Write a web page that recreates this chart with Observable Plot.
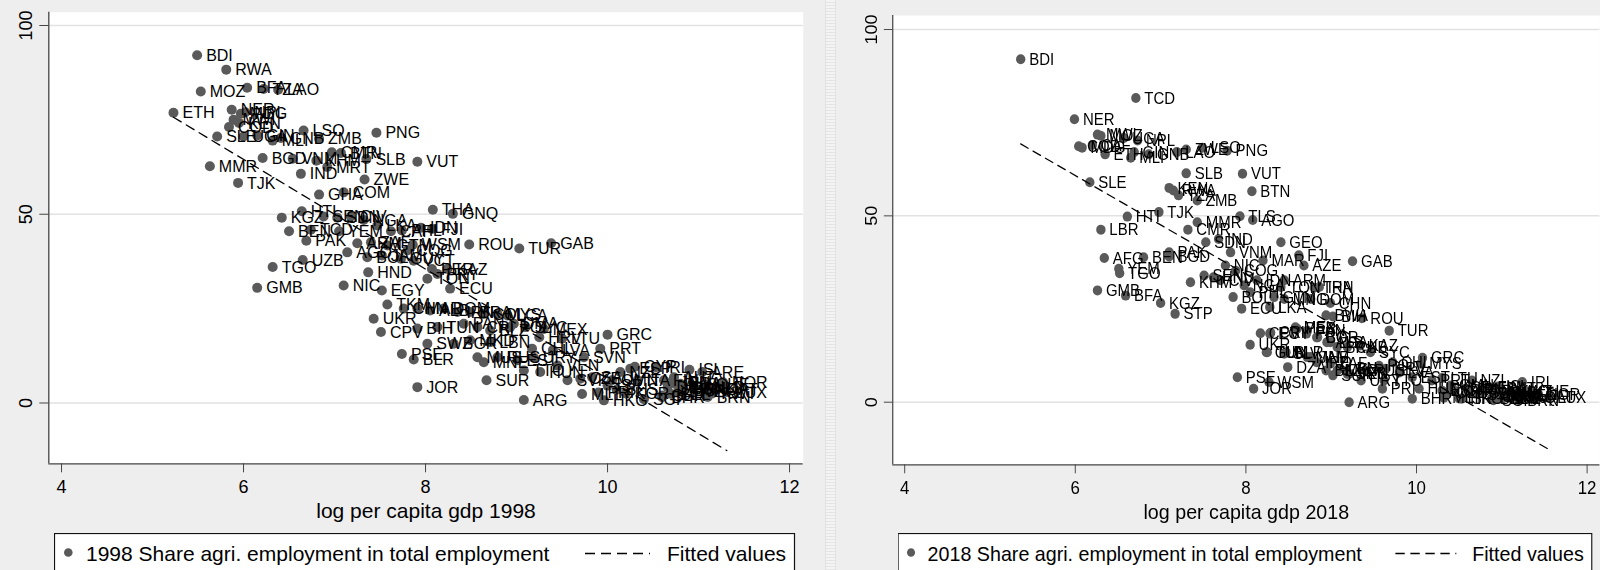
<!DOCTYPE html>
<html>
<head>
<meta charset="utf-8">
<script src="https://cdn.jsdelivr.net/npm/d3@7"></script>
<script src="https://cdn.jsdelivr.net/npm/@observablehq/plot@0.6"></script>
<style>
  html, body { margin: 0; padding: 0; background: #eeeeee; }
  #root { position: relative; width: 1600px; height: 570px; overflow: hidden; background: #eeeeee;
          font-family: "Liberation Sans", Arial, sans-serif; }
  .panel { position: absolute; top: 0; width: 810px; height: 570px; transform-origin: 0 0; }
  .panel svg { position: absolute; left: 0; top: 0; }
  .strip { position: absolute; left: 825px; top: 0; width: 11px; height: 570px;
           background: repeating-linear-gradient(180deg, #f4f4f4 0 2px, #e4e4e4 2px 3px);
           border-left: 1px solid #e2e2e2; border-right: 1px solid #e2e2e2; box-sizing: border-box; }
</style>
</head>
<body>
<div id="root">
  <div class="panel" id="p1" style="left:0px"></div>
  <div class="strip"></div>
  <div class="panel" id="p2" style="left:847px; transform: scaleX(0.9374)"></div>
</div>
<script>
// ---------- 1998 ----------
const codes98 = ["BDI","RWA","MOZ","BFA","TZA","LAO","ETH","NER","MDG","NPL","MWI","KEN","COD","SLE","UGA","GIN","MLI","GNB","LSO","ZMB",
  "PNG","BGD","VNM","KHM","CMR","BTN","MRT","SLB","VUT","MMR","TJK","IND","ZWE","GHA","COM","HTI","KGZ","SEN","SDN","CIV",
  "NGA","LKA","BEN","TCD","YEM","PAK","UZB","TGO","HND","NIC","GMB","THA","GNQ","FJI","ROU","TUR","GAB","WSM","CAF","PHL",
  "IDN","ARM","ZAF","GTM","AGO","BOL","JAM","GUY","COG","VCT","PER","KAZ","TON","PRY","ECU","EGY","TKM","CHN","MAR","ALB",
  "DOM","IRN","BRA","COL","MYS","LCA","UKR","CPV","BIH","TUN","PAN","CRI","BLZ","POL","SWZ","BGR","MKD","LBN","PSE","BLR",
  "MUS","MNE","RUS","EST","JOR","SUR","ARG","GRC","PRT","SVN","HRV","CHL","DMA","SYC","MEX","URY","VEN","TTO","HUN","SVK",
  "CZE","SAU","MLT","HKG","ISR","NZL","ESP","ITA","SGP","IRL","FIN","DEU","AUT","FRA","USA","DNK","ARE","NLD","CHE","NOR",
  "LUX","GBR","BEL","SWE","AUS","CAN","JPN","ISL","CYP","BHR","QAT","KWT","BRN","LTU","LVA","OMN","BHS","PRI","KOR"];
const gdp98 = [5.49,5.81,5.53,6.04,6.22,6.38,5.23,5.87,5.97,6.02,5.89,5.95,5.84,5.71,6.00,6.15,6.32,6.41,6.66,6.83,
  7.46,6.21,6.54,6.80,6.97,7.07,6.92,7.35,7.91,5.63,5.94,6.63,7.33,6.83,7.10,6.64,6.42,6.88,7.03,7.18,
  7.32,7.47,6.50,6.74,7.05,6.69,6.65,6.32,7.37,7.10,6.15,8.08,8.30,8.07,8.48,9.03,9.38,7.86,7.62,7.74,
  7.95,7.25,7.40,7.58,7.14,7.36,7.52,7.73,7.80,7.87,8.07,8.24,8.02,8.13,8.27,7.52,7.58,7.76,7.91,8.05,
  8.20,8.35,8.49,8.64,8.79,8.90,7.43,7.51,7.91,8.13,8.42,8.57,8.71,8.93,8.02,8.31,8.49,8.71,7.74,7.87,
  8.57,8.64,8.79,9.01,7.91,8.67,9.08,10.00,9.92,9.74,9.25,9.17,8.97,9.10,9.30,9.19,9.45,9.08,9.26,9.56,
  9.70,9.83,9.72,9.96,10.00,10.14,10.25,10.33,10.40,10.53,10.62,10.66,10.73,10.80,10.84,10.95,11.04,11.06,11.09,11.27,
  11.31,10.60,10.70,10.78,10.75,10.82,10.70,10.90,10.30,10.60,11.20,11.15,11.10,9.50,9.40,10.05,10.10,9.90,10.20];
const agri98 = [92.1,88.3,82.5,83.5,83.2,83.0,76.9,77.7,76.6,77.0,75.0,74.2,73.1,70.6,70.6,70.9,69.5,70.2,72.2,70.0,
  71.6,64.9,64.7,64.2,66.4,66.2,62.5,64.6,63.9,62.7,58.3,60.7,59.2,55.2,55.8,50.8,49.1,49.4,49.1,49.4,
  48.5,47.0,45.5,45.9,45.5,43.0,37.9,36.0,34.6,31.1,30.5,51.2,50.1,46.1,42.0,40.9,42.3,41.9,45.5,45.7,
  46.4,42.3,42.6,41.7,39.9,38.6,39.1,38.2,40.4,37.7,35.5,35.5,32.9,34.2,30.3,29.8,26.1,25.0,25.0,24.5,
  25.0,24.1,24.1,23.6,23.6,23.2,22.3,18.8,19.7,20.1,21.0,20.1,19.2,20.1,15.7,15.7,16.6,16.1,13.0,11.5,
  12.1,10.8,12.1,11.3,4.2,6.0,0.8,18.1,14.4,12.1,17.4,14.4,21.0,20.1,19.6,12.0,9.9,8.6,8.2,6.0,
  6.4,6.8,2.4,0.7,4.6,8.2,9.1,6.0,1.0,9.5,6.0,4.2,6.8,5.1,3.3,3.9,8.2,4.2,4.9,5.5,
  2.9,2.0,2.4,3.0,5.0,3.8,5.5,8.8,9.6,1.5,3.5,2.5,1.6,17.0,14.0,6.0,3.5,2.8,2.5];
const fitX98 = [5.23, 11.31];
const fitY98 = [75.7, -12.6];

// ---------- 2018 ----------
const codes18 = ["BDI","TCD","NER","MWI","MOZ","UGA","NPL","COD","MDG","ETH","MLI","GIN","GNB","CAF","LAO","ZWE","LSO","PNG","SLB","VUT",
  "BTN","KEN","TZA","RWA","ZMB","SLE","HTI","TJK","MMR","TLS","AGO","LBR","CMR","SDN","IND","AFG","YEM","TGO","BEN","BGD",
  "PAK","GMB","GEO","FJI","GAB","AZE","MAR","VNM","NIC","COG","ARM","THA","TON","IDN","KHM","SEN","HND","CIV","NGA","PHL",
  "BOL","GTM","MNG","ECU","LKA","BFA","KGZ","STP","UKR","CPV","EGY","PER","PRY","COL","ALB","BRA","TUN","SLV","JAM","DZA",
  "ZAF","MKD","SRB","PSE","WSM","JOR","ARG","CHN","DOM","IRN","BWA","BIH","ROU","TUR","GRC","CRI","MEX","PAN","BGR","LCA",
  "CUB","KAZ","SYC","GUY","BLR","MNE","IRQ","BLZ","SUR","LBN","VEN","URY","RUS","POL","HRV","CHL","LVA","PRI","TTO","EST",
  "BHR","HUN","PRT","ESP","KOR","HKG","ITA","NZL","SVN","FRA","GBR","DEU","NLD","IRL","CHE","NOR","LUX","SGP","USA","DNK",
  "AUS","CAN","ISL","SWE","AUT","BEL","FIN","JPN","ISR","CYP","CZE","LTU","MLT","QAT","ARE","KWT","SAU","OMN","MYS","BRN"];
const gdp18 = [5.36,6.71,5.99,6.26,6.30,6.57,6.73,6.04,6.08,6.35,6.65,6.69,6.86,6.20,7.19,7.30,7.49,7.78,7.30,7.96,
  8.07,7.10,7.21,7.15,7.43,6.17,6.61,6.98,7.43,7.93,8.08,6.30,7.32,7.53,7.68,6.34,6.51,6.52,6.80,7.10,
  7.10,6.26,8.41,8.62,9.25,8.68,8.20,7.82,7.76,7.88,8.45,8.80,8.41,8.13,7.35,7.51,7.62,7.70,7.98,8.05,
  7.85,8.33,8.45,7.95,8.28,6.59,7.00,7.17,8.05,8.17,8.28,8.60,8.71,8.83,8.95,9.07,8.25,8.45,8.76,8.49,
  8.99,9.07,9.19,7.90,8.27,8.09,9.21,8.99,8.76,8.86,8.94,9.02,9.36,9.68,10.07,8.29,8.58,8.72,8.84,8.99,
  9.19,9.34,9.46,8.24,8.47,8.72,8.83,8.94,9.02,9.10,9.21,9.35,9.40,9.56,9.64,9.72,9.80,9.60,9.62,9.95,
  9.95,10.03,10.18,10.30,10.41,10.53,10.61,10.65,10.73,10.85,10.97,11.08,11.20,11.24,11.32,11.43,11.55,10.90,11.05,11.00,
  10.95,10.90,10.95,11.02,10.95,10.88,10.85,10.60,10.50,10.45,10.37,10.30,10.32,11.40,11.00,11.10,10.75,10.40,10.05,11.20];
const agri18 = [92.0,81.6,75.9,71.8,71.5,70.9,70.2,68.7,68.3,66.5,65.6,67.1,66.5,69.0,67.1,67.8,68.3,67.5,61.4,61.3,
  56.6,57.5,55.5,56.8,54.1,59.0,49.8,51.0,48.3,49.9,48.9,46.3,46.3,42.9,43.8,38.7,35.8,34.6,38.9,39.1,
  40.2,30.0,42.9,39.4,37.8,36.7,38.0,40.2,36.7,35.3,32.7,30.7,30.9,32.7,32.2,34.0,33.5,32.7,31.3,29.5,
  28.2,28.2,27.7,25.1,25.5,28.6,26.6,23.7,15.4,18.5,18.4,19.7,18.4,17.4,16.1,14.8,13.4,13.0,12.1,9.4,
  10.3,8.5,7.6,6.7,5.4,3.6,0.0,26.6,27.7,30.9,23.3,23.0,22.5,19.2,11.9,18.6,20.1,19.2,17.4,16.1,
  14.8,15.2,13.4,13.4,13.4,12.1,10.7,8.5,7.2,9.0,7.6,5.8,8.5,9.8,9.0,10.7,8.0,3.6,5.8,6.7,
  0.9,3.6,5.8,3.1,4.0,0.9,3.1,5.8,2.2,3.6,1.0,1.3,2.2,5.4,3.0,2.1,1.2,0.5,1.4,2.4,
  2.6,1.5,4.2,1.8,3.7,1.0,3.9,3.4,1.0,3.0,2.6,6.5,1.2,1.3,0.9,2.8,2.5,4.5,10.3,0.6];
const fitX18 = [5.36, 11.59];
const fitY18 = [69.3, -13.2];

const yTicks = [0, 50, 100];
const xTicks = [4, 6, 8, 10, 12];
const legendLabels98 = ["1998 Share agri. employment in total employment", "Fitted values"];
const legendLabels18 = ["2018 Share agri. employment in total employment", "Fitted values"];

const FONT = '"Liberation Sans", Arial, Helvetica, sans-serif';
const DOT = "#5a5a5a";
const AXIS = "#444";

function panel(el, cfg) {
  const data = cfg.codes.map((c, i) => ({code: c, x: cfg.gdp[i], y: cfg.agri[i]}));
  const fit = cfg.fitX.map((x, i) => ({x, y: cfg.fitY[i]}));
  const xDomain = [3.86, 12.15];
  const H = 530;
  const chart = Plot.plot({
    width: 810, height: H,
    marginLeft: 48.3, marginRight: 7.3,
    marginTop: cfg.top, marginBottom: H - cfg.bottom,
    x: {domain: xDomain},
    y: {domain: cfg.yDomain},
    style: {fontFamily: FONT, background: "transparent", overflow: "visible", color: "#000"},
    marks: [
      Plot.frame({fill: "white", stroke: "none"}),
      Plot.ruleY(yTicks, {stroke: "#e2e2e2", strokeWidth: 1.5}),
      Plot.ruleX([xDomain[0]], {stroke: AXIS, strokeWidth: 1.3}),
      Plot.ruleY([cfg.yDomain[0]], {stroke: AXIS, strokeWidth: 1.3}),
      Plot.axisY({ticks: yTicks, tickSize: 9, tickPadding: 7.5, tickRotate: -90, fontSize: 18,
                  label: null, stroke: AXIS, tickFormat: d => String(d)}),
      Plot.axisX({ticks: xTicks, tickSize: 9, tickPadding: 7.6, fontSize: 18,
                  label: null, stroke: AXIS, tickFormat: d => String(d)}),
      Plot.dot(data, {x: "x", y: "y", r: 5, fill: DOT, stroke: "none"}),
      Plot.text(data, {x: "x", y: "y", text: "code", textAnchor: "start", dx: 9, dy: 0.5,
                       fontSize: 16, fill: "#000"}),
      Plot.line(fit, {x: "x", y: "y", stroke: "#000", strokeWidth: 1.3, strokeDasharray: "9,6"}),
      Plot.text([cfg.xTitle], {text: d => d, frameAnchor: "bottom", dy: 54, lineAnchor: "bottom",
                               fontSize: 21, fill: "#000"})
    ]
  });
  el.appendChild(chart);

  // legend box below the plot
  const leg = d3.select(el).append("svg")
    .attr("width", 742).attr("height", 40)
    .style("left", "54px").style("top", "532.5px")
    .style("font-family", FONT);
  leg.append("rect").attr("x", 0.5).attr("y", 0.5).attr("width", 740).attr("height", 60)
    .attr("fill", "white").attr("stroke", "#111").attr("stroke-width", 1.2);
  leg.append("circle").attr("cx", 14.3).attr("cy", 19.5).attr("r", 4.3).attr("fill", DOT);
  leg.append("text").attr("x", 32).attr("y", 28).attr("font-size", 21).text(cfg.legend[0]);
  leg.append("line").attr("x1", 531).attr("x2", 596).attr("y1", 20.5).attr("y2", 20.5)
    .attr("stroke", "#000").attr("stroke-width", 1.3).attr("stroke-dasharray", "10,6");
  leg.append("text").attr("x", 613).attr("y", 28).attr("font-size", 21).text(cfg.legend[1]);
}

panel(document.getElementById("p1"), {
  codes: codes98, gdp: gdp98, agri: agri98, fitX: fitX98, fitY: fitY98,
  yDomain: [-16.11, 103.52], top: 11.7, bottom: 463.3,
  xTitle: "log per capita gdp 1998", legend: legendLabels98
});
panel(document.getElementById("p2"), {
  codes: codes18, gdp: gdp18, agri: agri18, fitX: fitX18, fitY: fitY18,
  yDomain: [-16.8, 103.76], top: 15, bottom: 464.3,
  xTitle: "log per capita gdp 2018", legend: legendLabels18
});
</script>
</body>
</html>
